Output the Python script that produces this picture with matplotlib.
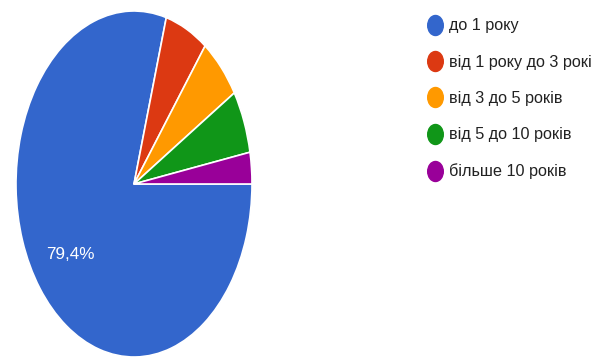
import matplotlib
matplotlib.use("Agg")
import matplotlib.pyplot as plt
from matplotlib.lines import Line2D
from matplotlib.path import Path
from matplotlib.transforms import Affine2D

# Response counts per work-experience group
categories = ["до 1 року", "від 1 року до 3 рокі", "від 3 до 5 років",
              "від 5 до 10 років", "більше 10 років"]
counts = [27, 2, 2, 2, 1]
colors = ["#3366CC", "#DC3912", "#FF9900", "#109618", "#990099"]

W, H = 605, 359
fig = plt.figure(figsize=(W / 100, H / 100), dpi=100)

# Pie area (stretched vertically into an ellipse)
left_px, top_px, w_px, h_px = 16, 11, 236, 346
ax = fig.add_axes([left_px / W, 1 - (top_px + h_px) / H, w_px / W, h_px / H])


def pct_label(p):
    return (f"{p:.1f}".replace(".", ",") + "%") if p > 10 else ""


wedges, texts, autotexts = ax.pie(
    counts, colors=colors, startangle=0, counterclock=False,
    autopct=pct_label, pctdistance=0.68,
    wedgeprops=dict(edgecolor="white", linewidth=1.2),
    textprops=dict(color="white", fontsize=12.3,
                   family=["Liberation Sans", "DejaVu Sans"]),
)
ax.set_aspect("auto")
ax.set_xlim(-1, 1)
ax.set_ylim(-1, 1)
ax.axis("off")

# Legend with oval markers
oval = Path.unit_circle().transformed(Affine2D().scale(0.78, 1.0))
handles = [Line2D([], [], linestyle="none", marker=oval, markersize=14.4,
                  markerfacecolor=c, markeredgecolor=c) for c in colors]
fs = 11.7
leg = fig.legend(handles, categories, loc="upper left",
                 bbox_to_anchor=(426.4 / W, 1 - 18.4 / H),
                 bbox_transform=fig.transFigure, frameon=False,
                 handlelength=1.0, handletextpad=0.39,
                 labelspacing=1.31, borderpad=0, borderaxespad=0,
                 prop=dict(family=["Liberation Sans", "DejaVu Sans"], size=fs))
for t in leg.get_texts():
    t.set_color("#222222")

fig.savefig("out.png", dpi=100)
